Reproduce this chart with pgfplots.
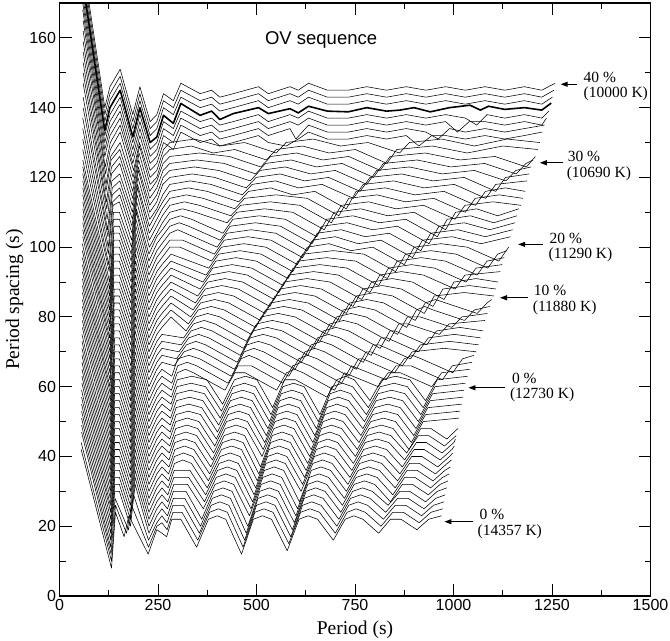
\documentclass[border=0pt]{standalone}
\usepackage{fontspec}
\setmainfont{Liberation Serif}
\newfontfamily\hv{Liberation Sans}
\usepackage{pgfplots}
\pgfplotsset{compat=1.18}
\usetikzlibrary{arrows.meta}
\tikzset{crv/.style={black, line width=0.55pt, line join=round}}
\begin{document}
\begin{tikzpicture}
\begin{axis}[
 scale only axis, width=591pt, height=593pt,
 xmin=0, xmax=1500, ymin=0, ymax=170,
 xtick={0,250,500,750,1000,1250,1500},
 xticklabels={0,250,500,750,1000,1250,1500},
 ytick={0,20,40,60,80,100,120,140,160},
 yticklabels={0,20,40,60,80,100,120,140,160},
 minor xtick={125,375,625,875,1125,1375},
 minor ytick={10,30,50,70,90,110,130,150},
 tick align=inside, tick pos=both,
 major tick length=12pt, minor tick length=6pt,
 tick style={black, line width=0.9pt},
 axis line style={line width=1.2pt},
 tick label style={font=\hv\fontsize{16}{16}\selectfont},
 clip mode=individual,
]
\addplot[crv] coordinates {(55,42)(132,8)(142,24)(164,17)(176,23)(225,12)(247,19)(260,18)(272,17)(285,22)(308,22)(348,14)(378,22)(400,23)(422,22)(462,12)(492,22)(515,23)(538,22)(578,13)(608,22)(631,23)(655,22)(695,16)(725,22)(747,23)(770,22)(810,18)(840,22)(867,22)(907,19)(937,22)(970,23)};
\addplot[crv] coordinates {(55,44)(132,10)(142,26)(170,18)(183,26)(226,14)(247,20)(260,21)(273,19)(288,24)(311,24)(351,16)(381,24)(403,25)(426,24)(466,14)(496,24)(519,25)(542,24)(582,15)(612,24)(636,25)(660,24)(700,18)(730,24)(753,25)(776,24)(816,20)(846,24)(873,24)(913,21)(943,24)(973,25)};
\addplot[crv] coordinates {(56,47)(131,12)(141,28)(175,19)(188,29)(226,16)(247,21)(260,23)(273,21)(288,26)(315,26)(355,18)(385,26)(407,27)(430,26)(470,16)(500,26)(524,27)(547,26)(587,17)(617,26)(640,27)(664,26)(704,20)(734,26)(758,27)(782,26)(822,22)(852,26)(879,26)(919,23)(949,26)(976,27)};
\addplot[crv] coordinates {(56,49)(130,14)(140,30)(152,30)(180,20)(192,32)(227,18)(247,23)(260,25)(274,23)(289,28)(318,28)(358,20)(388,28)(411,29)(434,28)(474,18)(504,28)(529,29)(551,28)(591,19)(621,28)(645,29)(669,28)(709,22)(739,28)(764,29)(788,28)(828,24)(858,28)(885,28)(925,25)(955,28)(979,29)};
\addplot[crv] coordinates {(56,51)(130,16)(140,32)(152,32)(180,22)(192,34)(227,20)(247,25)(260,27)(274,25)(289,30)(321,30)(361,22)(391,30)(415,31)(438,30)(478,20)(508,30)(533,31)(556,30)(596,21)(626,30)(650,31)(674,30)(714,24)(744,30)(769,31)(794,30)(834,26)(864,30)(889,30)(929,27)(959,30)(983,31)};
\addplot[crv] coordinates {(56,53)(130,18)(140,34)(152,34)(180,24)(192,36)(227,22)(247,27)(260,29)(275,27)(290,32)(325,32)(365,25)(395,32)(418,33)(442,32)(482,23)(512,32)(536,33)(560,32)(600,23)(630,32)(654,33)(678,32)(718,26)(748,32)(774,33)(800,32)(840,27)(870,32)(896,32)(936,29)(966,32)(986,33)};
\addplot[crv] coordinates {(56,55)(130,20)(140,36)(152,36)(180,26)(192,38)(227,24)(247,29)(260,31)(275,29)(290,34)(328,34)(368,27)(398,34)(422,35)(446,34)(486,25)(516,34)(540,35)(564,34)(604,25)(634,34)(659,35)(683,34)(723,28)(753,34)(780,35)(806,34)(846,29)(876,34)(902,34)(942,31)(972,34)(989,35)};
\addplot[crv] coordinates {(56,57)(130,22)(140,38)(152,38)(180,28)(192,40)(227,26)(247,31)(260,33)(276,31)(291,36)(331,36)(371,29)(401,36)(426,37)(450,36)(490,27)(520,36)(545,37)(569,36)(609,27)(639,36)(664,37)(688,36)(728,30)(758,36)(785,37)(812,36)(852,31)(882,36)(908,36)(948,33)(978,36)(992,37)};
\addplot[crv] coordinates {(56,59)(130,24)(140,40)(152,40)(180,30)(192,42)(227,28)(247,33)(260,35)(277,33)(292,38)(313,39)(335,38)(375,31)(405,38)(430,39)(454,38)(494,29)(524,38)(549,39)(573,38)(613,30)(643,38)(668,39)(692,38)(732,32)(762,38)(790,39)(818,38)(858,33)(888,38)(914,38)(954,35)(984,38)(995,39)};
\addplot[crv] coordinates {(57,61)(129,26)(140,42)(152,42)(180,32)(192,44)(227,30)(247,35)(260,37)(277,35)(292,40)(315,41)(338,40)(378,33)(408,40)(433,41)(458,40)(498,31)(528,40)(553,41)(577,40)(617,32)(647,40)(672,41)(697,40)(737,34)(767,40)(796,41)(824,40)(864,35)(894,40)(920,40)(960,37)(990,40)(998,41)};
\addplot[crv] coordinates {(57,63)(129,28)(140,44)(152,44)(180,34)(192,46)(227,32)(247,37)(260,39)(278,37)(293,42)(317,43)(341,42)(381,35)(411,42)(437,43)(462,42)(502,33)(532,42)(557,43)(582,42)(622,34)(652,42)(677,43)(702,42)(742,36)(772,42)(801,43)(830,42)(870,37)(900,42)(926,42)(966,39)(996,42)(1002,43)};
\addplot[crv] coordinates {(57,65)(129,30)(140,46)(152,46)(180,36)(192,48)(227,34)(247,39)(260,41)(278,39)(293,44)(318,45)(344,44)(384,37)(414,44)(440,45)(466,44)(506,35)(536,44)(561,45)(586,44)(626,36)(656,44)(681,45)(706,44)(746,38)(776,44)(806,45)(836,44)(876,39)(906,44)(931,44)(971,41)(1001,44)(1005,45)};
\addplot[crv] coordinates {(57,67)(129,32)(140,48)(152,48)(180,38)(192,50)(227,36)(247,41)(260,43)(279,41)(294,46)(321,47)(348,46)(388,39)(418,46)(444,47)(470,46)(510,37)(540,46)(565,47)(590,46)(630,38)(660,46)(686,47)(711,46)(751,40)(781,46)(811,47)(841,46)(881,41)(911,46)(937,46)(977,43)(1007,46)};
\addplot[crv] coordinates {(57,69)(129,34)(140,50)(152,50)(180,40)(192,52)(227,38)(247,43)(260,45)(280,43)(295,48)(323,49)(351,48)(391,41)(421,48)(448,49)(474,48)(514,40)(544,48)(569,49)(595,48)(635,40)(665,48)(690,49)(716,48)(756,42)(786,48)(817,49)(847,48)(887,42)(917,48)(943,48)(983,45)(1011,48)};
\addplot[crv] coordinates {(57,71)(129,36)(140,52)(152,52)(180,42)(192,54)(227,40)(247,45)(260,47)(280,45)(295,50)(324,51)(354,50)(394,43)(424,50)(451,51)(477,50)(517,42)(547,50)(573,51)(599,50)(639,42)(669,50)(694,51)(720,50)(760,44)(790,50)(822,51)(853,50)(893,44)(923,50)(1014,51)};
\addplot[crv] coordinates {(57,73)(129,38)(140,54)(152,54)(180,44)(192,56)(227,42)(247,47)(260,49)(281,47)(296,52)(327,53)(358,52)(398,45)(428,52)(455,53)(481,52)(521,44)(551,52)(577,53)(603,52)(643,44)(673,52)(699,53)(725,52)(765,46)(795,52)(827,53)(859,52)(899,46)(929,52)(1017,53)};
\addplot[crv] coordinates {(57,75)(129,40)(140,56)(152,56)(180,46)(192,58)(227,44)(247,49)(260,51)(281,49)(296,54)(328,55)(361,54)(401,47)(431,54)(458,55)(485,54)(525,46)(555,54)(581,55)(608,54)(648,46)(678,54)(704,55)(730,54)(770,48)(800,54)(833,55)(865,54)(905,48)(935,54)(1021,55)};
\addplot[crv] coordinates {(58,77)(129,42)(140,58)(152,58)(180,48)(192,60)(227,46)(247,51)(260,53)(282,51)(297,56)(330,57)(364,56)(404,49)(434,56)(461,57)(489,56)(529,48)(559,56)(585,57)(612,56)(652,48)(682,56)(708,57)(734,56)(774,50)(804,56)(838,57)(871,56)(911,50)(941,56)(1024,57)};
\addplot[crv] coordinates {(58,79)(129,44)(140,60)(152,60)(180,50)(192,62)(227,48)(247,53)(260,55)(282,53)(297,58)(332,59)(368,58)(408,51)(438,58)(465,59)(493,58)(533,50)(563,58)(590,59)(617,58)(657,50)(687,58)(713,59)(739,58)(779,52)(809,58)(843,59)(877,58)(917,52)(947,58)(1027,59)};
\addplot[crv] coordinates {(58,81)(129,46)(140,62)(152,62)(180,52)(192,64)(227,50)(247,55)(260,57)(283,55)(298,60)(334,61)(371,60)(411,53)(441,60)(469,61)(497,60)(537,52)(567,60)(594,61)(621,60)(661,52)(691,60)(718,61)(744,60)(784,54)(814,60)(849,61)(883,60)(923,54)(953,60)(1030,61)};
\addplot[crv] coordinates {(58,83)(129,48)(140,64)(152,64)(180,54)(192,66)(227,52)(247,57)(260,59)(284,57)(299,62)(336,63)(374,62)(414,55)(444,62)(472,63)(501,62)(541,54)(571,62)(599,62)(679,57)(704,62)(726,63)(748,62)(788,56)(818,62)(853,63)(889,62)(929,56)(959,62)(1036,63)};
\addplot[crv] coordinates {(58,85)(129,50)(140,66)(152,66)(180,56)(192,68)(227,54)(247,59)(260,61)(284,59)(299,64)(320,65)(340,64)(420,59)(445,64)(471,64)(551,59)(576,64)(597,65)(618,64)(698,59)(723,64)(809,60)(834,64)(865,64)(945,60)(970,64)(1041,65)};
\addplot[crv] coordinates {(58,87)(129,52)(140,68)(152,68)(180,58)(192,70)(227,56)(247,61)(260,63)(285,61)(300,66)(324,67)(348,66)(428,61)(453,66)(487,66)(567,61)(592,66)(614,67)(636,66)(716,61)(741,66)(829,62)(854,66)(892,66)(972,62)(997,66)(1047,67)};
\addplot[crv] coordinates {(58,89)(129,54)(140,70)(152,70)(180,60)(192,72)(227,58)(247,63)(260,65)(285,63)(300,68)(328,69)(356,68)(436,63)(461,68)(481,69)(502,68)(582,63)(607,68)(630,69)(654,68)(734,63)(759,68)(770,68)(850,64)(875,68)(896,69)(918,68)(998,64)(1023,68)(1052,69)};
\addplot[crv] coordinates {(58,91)(129,56)(140,72)(152,72)(180,62)(192,74)(227,60)(247,65)(260,67)(291,66)(316,70)(340,71)(364,70)(444,65)(469,70)(493,71)(518,70)(598,65)(623,70)(648,71)(673,70)(753,65)(778,70)(790,70)(870,66)(895,70)(976,71)(1058,70)};
\addplot[crv] coordinates {(58,93)(129,58)(140,74)(152,74)(180,64)(192,76)(227,62)(247,67)(260,69)(297,68)(322,72)(346,73)(371,72)(451,67)(476,72)(505,73)(534,72)(614,67)(639,72)(665,73)(691,72)(771,67)(796,72)(811,72)(891,68)(916,72)(990,73)(1064,72)};
\addplot[crv] coordinates {(58,95)(128,60)(139,76)(152,76)(181,66)(193,78)(227,64)(247,69)(260,71)(303,70)(328,74)(353,75)(379,74)(459,69)(484,74)(517,75)(550,74)(630,69)(655,74)(683,75)(711,74)(791,69)(816,74)(831,74)(911,70)(936,74)(1002,75)(1069,74)};
\addplot[crv] coordinates {(58,97)(128,62)(139,78)(152,78)(181,68)(193,80)(227,66)(247,71)(260,73)(309,72)(334,76)(360,77)(387,76)(467,71)(492,76)(528,77)(565,76)(645,71)(670,76)(702,77)(734,76)(814,71)(839,76)(852,76)(932,72)(957,76)(1016,77)(1075,76)};
\addplot[crv] coordinates {(58,99)(128,64)(139,80)(152,80)(181,70)(193,82)(227,68)(247,73)(260,75)(315,74)(340,78)(367,79)(395,78)(475,73)(500,78)(540,79)(581,78)(661,73)(686,78)(721,79)(756,78)(836,73)(861,78)(884,78)(964,75)(989,78)(1080,79)};
\addplot[crv] coordinates {(58,101)(128,66)(139,82)(152,82)(181,72)(193,84)(227,70)(247,75)(260,77)(283,80)(321,76)(346,80)(376,81)(407,80)(487,75)(512,80)(555,81)(598,80)(678,75)(703,80)(740,81)(778,80)(858,75)(883,80)(916,80)(996,77)(1021,80)(1086,81)};
\addplot[crv] coordinates {(59,103)(128,68)(139,84)(152,84)(181,74)(193,86)(227,72)(247,77)(260,79)(283,82)(327,78)(352,82)(385,83)(418,82)(498,77)(523,82)(569,83)(615,82)(695,77)(720,82)(760,83)(801,82)(881,77)(906,82)(927,83)(948,82)(1028,79)(1053,82)(1092,83)};
\addplot[crv] coordinates {(59,105)(128,70)(139,86)(152,86)(181,76)(193,88)(227,74)(247,79)(260,81)(283,84)(333,80)(358,84)(394,85)(430,84)(510,79)(535,84)(583,85)(631,84)(711,79)(736,84)(780,85)(823,84)(903,79)(928,84)(954,85)(980,84)(1060,81)(1085,84)(1097,85)};
\addplot[crv] coordinates {(59,107)(128,72)(139,88)(152,88)(181,78)(193,90)(227,76)(247,81)(260,83)(283,86)(339,82)(364,86)(403,87)(442,86)(522,81)(547,86)(598,87)(648,86)(728,81)(753,86)(800,87)(846,86)(926,81)(951,86)(1027,87)(1103,86)};
\addplot[crv] coordinates {(59,109)(127,74)(138,90)(152,90)(181,80)(193,92)(227,78)(247,83)(260,85)(283,88)(345,84)(370,88)(412,89)(454,88)(534,83)(559,88)(612,89)(665,88)(745,83)(770,88)(819,89)(868,88)(948,83)(973,88)(1040,89)(1108,88)};
\addplot[crv] coordinates {(59,111)(127,76)(138,92)(152,92)(181,82)(193,94)(227,80)(247,85)(260,87)(283,90)(351,86)(376,90)(420,91)(465,90)(545,85)(570,90)(628,91)(687,90)(767,85)(792,90)(844,91)(896,90)(976,85)(1001,90)(1057,91)(1113,90)};
\addplot[crv] coordinates {(59,113)(127,78)(138,94)(152,94)(181,84)(193,96)(227,82)(247,87)(260,89)(283,92)(357,88)(382,92)(430,93)(477,92)(557,87)(582,92)(645,93)(708,92)(788,87)(813,92)(868,93)(924,92)(1004,88)(1029,92)(1119,93)};
\addplot[crv] coordinates {(59,115)(127,80)(138,96)(152,96)(181,86)(193,98)(227,84)(247,89)(260,91)(283,94)(364,90)(389,94)(438,95)(488,94)(568,89)(593,94)(661,95)(730,94)(810,89)(835,94)(893,95)(952,94)(1032,90)(1057,94)(1124,95)};
\addplot[crv] coordinates {(59,117)(127,82)(138,98)(152,98)(182,88)(194,100)(227,86)(247,91)(260,93)(283,96)(372,92)(397,96)(448,97)(500,96)(580,91)(605,96)(678,97)(752,96)(832,91)(857,96)(918,97)(980,96)(1060,92)(1085,96)(1129,97)};
\addplot[crv] coordinates {(59,119)(127,84)(138,100)(152,100)(182,90)(194,102)(227,88)(247,93)(260,95)(283,98)(379,94)(404,98)(458,99)(512,98)(592,93)(617,98)(695,99)(773,98)(853,93)(878,98)(942,99)(1007,98)(1087,94)(1112,98)(1135,99)};
\addplot[crv] coordinates {(59,121)(127,86)(138,102)(152,102)(182,92)(194,104)(227,90)(247,95)(260,97)(280,100)(306,100)(386,96)(411,100)(468,101)(524,100)(604,95)(629,100)(684,101)(740,99)(795,100)(875,95)(900,100)(968,101)(1035,100)(1115,96)(1140,100)};
\addplot[crv] coordinates {(59,123)(127,88)(138,104)(152,104)(182,94)(194,106)(227,92)(247,97)(260,99)(280,102)(313,102)(393,98)(418,102)(478,103)(537,102)(617,97)(642,102)(700,103)(758,101)(816,102)(896,97)(921,102)(996,103)(1070,101)(1145,103)};
\addplot[crv] coordinates {(59,125)(127,90)(138,106)(152,106)(182,96)(194,108)(227,94)(247,99)(260,101)(280,104)(300,105)(320,104)(400,100)(425,104)(487,105)(549,104)(629,99)(654,104)(715,105)(776,103)(837,104)(917,99)(942,104)(1011,105)(1081,103)(1150,105)};
\addplot[crv] coordinates {(59,128)(126,93)(137,108)(152,108)(182,98)(195,110)(227,96)(247,101)(260,103)(280,106)(304,107)(328,106)(408,102)(433,106)(497,107)(561,106)(641,101)(666,106)(730,107)(794,105)(858,106)(938,101)(963,106)(1027,107)(1092,105)(1156,107)};
\addplot[crv] coordinates {(59,131)(125,95)(137,110)(152,110)(183,100)(195,111)(227,98)(247,103)(261,105)(280,108)(307,109)(335,108)(415,104)(440,108)(507,109)(573,108)(653,103)(678,108)(745,109)(812,107)(879,108)(959,103)(984,108)(1043,109)(1102,107)(1161,109)};
\addplot[crv] coordinates {(59,134)(124,98)(136,112)(152,113)(183,102)(196,113)(228,100)(247,104)(261,107)(280,110)(312,111)(345,110)(425,107)(450,110)(521,111)(592,110)(672,105)(697,110)(765,111)(833,109)(900,110)(980,105)(1005,110)(1059,111)(1112,109)(1166,111)};
\addplot[crv] coordinates {(59,137)(124,100)(135,113)(153,115)(184,104)(197,115)(228,102)(247,106)(261,109)(280,112)(317,113)(355,112)(435,109)(460,112)(535,113)(610,112)(690,107)(715,112)(785,113)(854,111)(924,112)(1004,108)(1029,112)(1100,113)(1171,112)};
\addplot[crv] coordinates {(60,140)(123,103)(134,115)(153,117)(184,106)(198,117)(228,104)(247,108)(261,111)(280,114)(322,115)(365,114)(445,111)(470,114)(550,115)(629,114)(709,109)(734,114)(806,115)(878,113)(950,114)(1030,110)(1055,114)(1116,115)(1176,114)};
\addplot[crv] coordinates {(60,143)(122,105)(134,117)(153,119)(185,108)(198,118)(228,106)(247,110)(262,113)(280,116)(327,117)(375,116)(455,113)(480,116)(536,117)(592,115)(648,116)(728,111)(753,116)(827,117)(902,115)(976,116)(1056,112)(1081,116)(1131,117)(1182,116)};
\addplot[crv] coordinates {(60,147)(121,108)(133,119)(153,121)(185,110)(199,120)(229,108)(247,111)(262,115)(280,118)(332,119)(384,118)(464,115)(489,118)(548,119)(607,117)(666,118)(746,114)(771,118)(848,119)(925,117)(1002,118)(1082,114)(1107,118)(1187,119)};
\addplot[crv] coordinates {(60,150)(120,111)(132,121)(153,124)(185,112)(200,122)(229,110)(247,113)(262,118)(280,120)(337,121)(394,120)(474,117)(499,120)(560,121)(622,119)(683,120)(763,116)(788,120)(868,121)(948,119)(1027,120)(1107,116)(1132,120)(1192,121)};
\addplot[crv] coordinates {(60,153)(119,113)(132,123)(153,126)(186,114)(200,123)(229,112)(247,115)(263,120)(280,122)(342,123)(404,122)(484,119)(509,122)(573,123)(637,121)(700,122)(780,118)(805,122)(888,123)(971,121)(1053,122)(1133,119)(1158,122)(1197,123)};
\addplot[crv] coordinates {(60,156)(118,116)(131,125)(153,128)(186,116)(201,125)(229,114)(247,117)(263,122)(280,124)(349,125)(418,124)(498,121)(523,124)(588,125)(652,123)(717,124)(797,120)(822,124)(908,125)(993,123)(1079,124)(1159,121)(1184,124)(1202,125)};
\addplot[crv] coordinates {(60,159)(118,118)(130,126)(154,130)(187,118)(202,127)(229,116)(247,119)(263,124)(280,126)(355,127)(431,126)(511,123)(536,126)(602,127)(668,125)(734,126)(814,122)(839,126)(928,127)(1017,125)(1105,126)(1185,123)(1208,126)};
\addplot[crv] coordinates {(60,162)(117,121)(129,128)(154,133)(187,120)(203,129)(230,118)(247,120)(263,126)(280,128)(335,129)(390,127)(445,128)(525,125)(550,128)(617,129)(684,127)(751,128)(831,124)(856,128)(946,129)(1035,127)(1125,129)(1214,128)};
\addplot[crv] coordinates {(60,165)(116,123)(129,130)(154,135)(188,122)(203,130)(230,120)(247,122)(264,128)(280,130)(343,131)(407,129)(470,130)(550,127)(575,130)(644,131)(713,129)(783,130)(863,127)(888,130)(970,131)(1053,129)(1136,131)(1219,130)};
\addplot[crv] coordinates {(59,168)(115,126)(128,132)(154,137)(186,124)(204,132)(230,122)(247,124)(264,130)(289,128)(308,133)(357,130)(386,131)(407,129)(441,130)(505,132)(530,130)(575,129)(606,131)(632,133)(680,131)(733,131)(780,132)(830,131)(880,132)(912,129)(945,132)(980,132)(1030,131)(1080,132)(1130,131)(1180,132)(1225,133)};
\addplot[crv] coordinates {(59,170)(115,128)(128,134)(154,139)(186,126)(204,134)(230,124)(247,126)(264,132)(289,130)(308,135)(357,132)(386,133)(407,131)(441,132)(505,134)(530,132)(585,134)(600,131)(632,135)(680,133)(733,133)(780,134)(830,133)(880,134)(930,133)(961,131)(990,134)(1030,133)(1080,134)(1130,133)(1180,134)(1231,135)};
\addplot[crv] coordinates {(59,172)(115,130)(128,136)(154,141)(186,128)(204,136)(230,126)(247,128)(264,134)(289,132)(308,137)(357,134)(386,135)(407,133)(441,134)(505,136)(530,134)(585,136)(606,135)(632,137)(680,135)(733,135)(780,136)(830,135)(880,136)(930,135)(980,136)(1010,133)(1040,136)(1080,136)(1130,135)(1180,136)(1224,135)(1236,137)};
\addplot[crv] coordinates {(59,174)(115,132)(128,138)(154,143)(186,130)(204,138)(230,128)(247,130)(264,136)(289,134)(308,139)(357,136)(386,137)(407,135)(441,136)(505,138)(530,136)(585,138)(606,137)(632,139)(680,137)(733,137)(780,138)(830,137)(880,138)(930,137)(980,138)(1030,137)(1059,135)(1085,138)(1130,137)(1180,138)(1224,137)(1242,139)};
\addplot[crv] coordinates {(59,178)(115,136)(128,142)(154,147)(186,134)(204,142)(230,132)(247,134)(264,140)(289,138)(308,143)(357,140)(386,141)(407,139)(441,140)(505,142)(530,140)(585,142)(606,141)(632,143)(680,141)(733,141)(780,142)(830,141)(880,142)(930,141)(980,142)(1030,141)(1080,142)(1130,141)(1180,142)(1224,141)(1251,143)};
\addplot[crv] coordinates {(59,180)(115,138)(128,144)(154,149)(186,136)(204,144)(230,134)(247,136)(264,142)(289,140)(308,145)(357,142)(386,143)(407,141)(441,142)(505,144)(530,142)(585,144)(606,143)(632,145)(680,143)(733,143)(780,144)(830,143)(880,144)(930,143)(980,144)(1030,143)(1080,144)(1130,143)(1180,144)(1224,143)(1255,145)};
\addplot[crv] coordinates {(59,182)(115,140)(128,146)(154,151)(186,138)(204,146)(230,136)(247,138)(264,144)(289,142)(308,147)(357,144)(386,145)(407,143)(441,144)(505,146)(530,144)(585,146)(606,145)(632,147)(680,145)(733,145)(780,146)(830,145)(880,146)(930,145)(980,146)(1030,145)(1080,146)(1130,145)(1180,146)(1224,145)(1258,147)};
\addplot[crv, line width=1.6pt] coordinates {(59,176)(115,133.5)(128,140)(154,145)(186,131.6)(204,140)(230,130)(247,131.6)(264,137.8)(289,135.5)(308,141.2)(357,137.8)(386,139)(407,136.6)(441,138.3)(505,140)(530,138.3)(585,139.7)(606,138.5)(632,140.4)(680,139)(733,138.8)(780,140)(830,139)(864,139.3)(900,140)(941,138.8)(990,140)(1042,140.7)(1068,139.3)(1089,140.4)(1130,139.5)(1180,140)(1224,139.3)(1248,141.3)};

\node[font=\hv\fontsize{18.5}{20}\selectfont] at (axis cs:664,159.3) {OV sequence};
\begin{scope}[every node/.style={font=\fontsize{15.5}{15.5}\selectfont, anchor=west, inner sep=0pt, align=left}]
\node at (axis cs:1330,146.0) {40 \%\\(10000 K)};
\node at (axis cs:1287,123.3) {\hspace*{1pt}30 \%\\(10690 K)};
\node at (axis cs:1241,99.9) {\hspace*{1pt}20 \%\\(11290 K)};
\node at (axis cs:1201,84.8) {\hspace*{1pt}10 \%\\(11880 K)};
\node at (axis cs:1143,59.8) {\hspace*{2pt}0 \%\\(12730 K)};
\node at (axis cs:1061,20.6) {\hspace*{2pt}0 \%\\(14357 K)};
\end{scope}
\begin{scope}[line width=0.9pt, -{Triangle[length=7pt,width=5pt]}]
\draw (axis cs:1313,146.7) -- (axis cs:1272,146.7);
\draw (axis cs:1279,124.2) -- (axis cs:1219,124.2);
\draw (axis cs:1228,100.8) -- (axis cs:1164,100.8);
\draw (axis cs:1190,85.5) -- (axis cs:1118,85.5);
\draw (axis cs:1131,59.7) -- (axis cs:1038,59.7);
\draw (axis cs:1050,21.3) -- (axis cs:977,21.3);
\end{scope}
\path (rel axis cs:0.5,0) ++(0pt,-33.5pt) node[font=\fontsize{19.5}{20}\selectfont] {Period (s)};
\path (rel axis cs:0,0.5) ++(-45pt,0pt) node[rotate=90, font=\fontsize{19.5}{20}\selectfont] {Period spacing (s)};
\coordinate (SW) at (rel axis cs:0,0);
\coordinate (NE) at (rel axis cs:1,1);
\end{axis}
\pgfresetboundingbox
\path ([xshift=-59.5pt,yshift=-44pt]SW) rectangle ([xshift=19.5pt,yshift=3pt]NE);
\end{tikzpicture}
\end{document}
